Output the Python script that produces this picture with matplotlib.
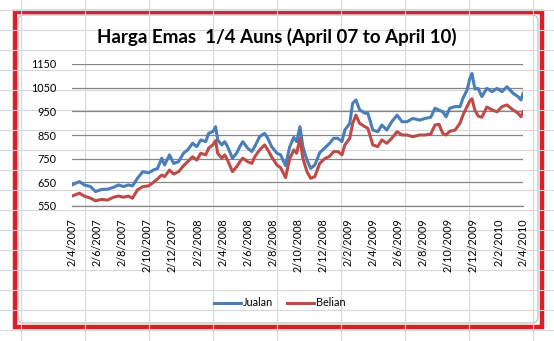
import pandas as pd
import matplotlib
matplotlib.use("Agg")
import matplotlib.pyplot as plt
import matplotlib.dates as mdates
from matplotlib.patches import Rectangle, FancyBboxPatch

# values (RM per 1/4 oz)
dates = [
    "2007-04-02", "2007-04-20", "2007-05-02", "2007-05-17", "2007-05-29", "2007-06-13",
    "2007-06-27", "2007-07-12", "2007-07-24", "2007-08-05", "2007-08-17", "2007-08-27",
    "2007-09-08", "2007-09-21", "2007-10-05", "2007-10-17", "2007-10-27", "2007-11-06",
    "2007-11-13", "2007-11-25", "2007-12-05", "2007-12-17", "2007-12-29", "2008-01-08",
    "2008-01-20", "2008-01-30", "2008-02-09", "2008-02-21", "2008-02-28", "2008-03-09",
    "2008-03-16", "2008-03-21", "2008-03-31", "2008-04-07", "2008-04-14", "2008-04-26",
    "2008-05-06", "2008-05-14", "2008-05-21", "2008-06-02", "2008-06-12", "2008-06-19",
    "2008-07-01", "2008-07-13", "2008-07-21", "2008-07-30", "2008-08-12", "2008-08-21",
    "2008-09-02", "2008-09-12", "2008-09-22", "2008-09-29", "2008-10-07", "2008-10-14",
    "2008-10-24", "2008-11-02", "2008-11-12", "2008-11-24", "2008-12-06", "2008-12-18",
    "2008-12-28", "2009-01-07", "2009-01-17", "2009-01-24", "2009-02-05", "2009-02-12",
    "2009-02-20", "2009-03-01", "2009-03-14", "2009-03-21", "2009-04-02", "2009-04-14",
    "2009-04-24", "2009-05-06", "2009-05-18", "2009-05-31", "2009-06-12", "2009-06-24",
    "2009-07-08", "2009-07-25", "2009-08-07", "2009-08-21", "2009-08-31", "2009-09-10",
    "2009-09-19", "2009-09-27", "2009-10-06", "2009-10-19", "2009-10-31", "2009-11-07",
    "2009-11-17", "2009-11-24", "2009-11-29", "2009-12-06", "2009-12-14", "2009-12-23",
    "2010-01-04", "2010-01-17", "2010-01-29", "2010-02-10", "2010-02-22", "2010-03-09",
    "2010-03-21", "2010-03-28", "2010-04-02",
]

jualan = [
    639, 653, 639, 632, 611, 620, 621, 629, 639, 632, 639, 635,
    667, 695, 690, 702, 709, 752, 723, 766, 730, 737, 773, 787,
    815, 801, 829, 822, 857, 864, 885, 829, 808, 822, 801, 752,
    773, 801, 822, 794, 780, 801, 843, 857, 836, 801, 773, 766,
    720, 800, 840, 822, 885, 801, 744, 709, 723, 775, 795, 815,
    836, 836, 822, 871, 899, 984, 998, 956, 942, 942, 871, 864,
    892, 871, 906, 934, 906, 906, 920, 913, 920, 925, 963, 955,
    948, 927, 963, 970, 970, 1005, 1040, 1090, 1110, 1045, 1047, 1012,
    1047, 1033, 1047, 1033, 1054, 1026, 1012, 998, 1026,
]

belian = [
    592, 604, 592, 583, 572, 578, 575, 587, 592, 587, 592, 583,
    618, 632, 635, 650, 665, 681, 674, 702, 685, 695, 720, 737,
    758, 744, 773, 766, 794, 808, 826, 773, 752, 766, 744, 695,
    716, 737, 752, 737, 730, 758, 787, 808, 787, 758, 723, 712,
    670, 750, 787, 773, 836, 752, 695, 667, 674, 730, 750, 760,
    780, 780, 766, 808, 836, 899, 934, 899, 885, 878, 808, 801,
    829, 815, 836, 864, 850, 850, 843, 850, 850, 854, 892, 895,
    857, 850, 866, 871, 900, 934, 970, 995, 1003, 955, 930, 925,
    968, 956, 948, 970, 977, 956, 942, 927, 948,
]

y_ticks = [550, 650, 750, 850, 950, 1050, 1150]

W, H = 554, 341


def draw_sheet(fig):
    # excel sheet behind the chart, in pixel coords
    bg = fig.add_axes([0, 0, 1, 1], zorder=0)
    bg.set_xlim(0, W)
    bg.set_ylim(H, 0)
    bg.axis("off")
    for x in range(21, W, 64):
        bg.plot([x, x], [0, H], color="#d4d7db", lw=0.8)
    for y in range(10, H, 20):
        bg.plot([0, W], [y, y], color="#d4d7db", lw=0.8)

    bg.add_patch(Rectangle((13, 10), 530, 318, facecolor="white", edgecolor="none"))
    bg.add_patch(FancyBboxPatch((18, 15), 520, 308, boxstyle="round,pad=0,rounding_size=6",
                                facecolor="white", edgecolor="#b9b9b9", lw=0.8))
    bg.add_patch(Rectangle((14.5, 11.5), 527, 315, facecolor="none",
                           edgecolor="#dc1f26", lw=3.2))


def main():
    plt.rcParams["font.family"] = ["Lato", "DejaVu Sans"]

    fig = plt.figure(figsize=(W / 100, H / 100), dpi=100)
    draw_sheet(fig)

    x = pd.to_datetime(dates)

    ax = fig.add_axes([72 / W, 1 - 206 / H, 451 / W, 142 / H], zorder=2)
    ax.set_facecolor("none")
    ax.plot(x, jualan, color="#4a7ebb", lw=2.2, label="Jualan", solid_joinstyle="round")
    ax.plot(x, belian, color="#be4b48", lw=2.2, label="Belian", solid_joinstyle="round")

    ax.set_xlim(pd.Timestamp("2007-04-02"), pd.Timestamp("2010-04-02"))
    ax.set_ylim(y_ticks[0], y_ticks[-1])
    ax.set_yticks(y_ticks)
    ax.yaxis.grid(True, color="#868686", lw=0.9)
    ax.set_axisbelow(True)

    ax.xaxis.set_major_locator(mdates.MonthLocator(bymonth=[2, 4, 6, 8, 10, 12], bymonthday=2))
    ax.xaxis.set_major_formatter(plt.FuncFormatter(
        lambda v, pos: "{0.day}/{0.month}/{0.year}".format(mdates.num2date(v))))
    for lbl in ax.get_xticklabels():
        lbl.set_rotation(90)

    for side in ["left", "right", "top"]:
        ax.spines[side].set_visible(False)
    ax.spines["bottom"].set_color("#868686")
    ax.spines["bottom"].set_linewidth(0.9)
    ax.tick_params(axis="both", length=0, labelsize=7.8, colors="black")
    ax.tick_params(axis="x", pad=9)
    ax.tick_params(axis="y", pad=11)

    fig.text(277 / W, 1 - 37 / H, "Harga Emas  1/4 Auns (April 07 to April 10)",
             ha="center", va="center", fontsize=13.5, fontweight="bold")

    fig.legend(loc="center", bbox_to_anchor=(280 / W, 1 - 303 / H), ncol=2,
               frameon=False, fontsize=7.8, handlelength=2.5, handletextpad=0.15,
               columnspacing=1.3)

    fig.savefig("out.png", dpi=100)


if __name__ == "__main__":
    main()
